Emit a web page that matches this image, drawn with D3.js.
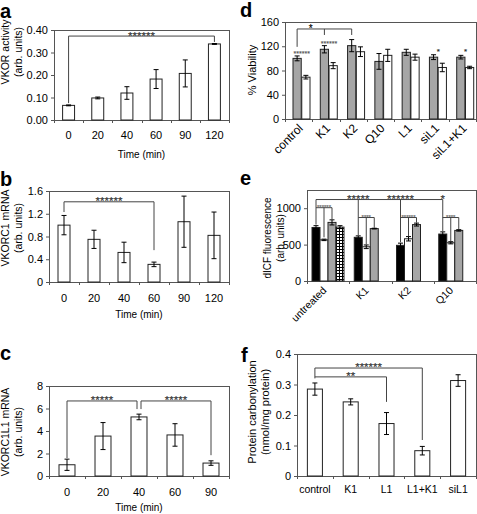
<!DOCTYPE html>
<html><head><meta charset="utf-8">
<script src="https://cdn.jsdelivr.net/npm/d3@7"></script>
<style>body{margin:0;background:#fff} svg{display:block}</style>
</head><body>
<script>
// ---------------- data ----------------
// panel a
const aTimes = ["0","20","40","60","90","120"];
const aValues = [0.065, 0.098, 0.120, 0.182, 0.207, 0.338];
const aErrors = [0.002, 0.004, 0.028, 0.042, 0.060, 0.002];
const aTicks = [0, 0.1, 0.2, 0.3, 0.4];
const aSig = [{from:"0", to:"120", level:0.373, end1:0.075, end2:0.347, label:"******"}];
// panel b
const bTimes = ["0","20","40","60","90","120"];
const bValues = [1.00, 0.75, 0.52, 0.31, 1.06, 0.82];
const bErrors = [0.17, 0.16, 0.18, 0.04, 0.45, 0.41];
const bTicks = [0, 0.4, 0.8, 1.2, 1.6];
const bSig = [{from:"0", to:"60", level:1.41, end1:1.23, end2:0.56, label:"******"}];
// panel c
const cTimes = ["0","20","40","60","90"];
const cValues = [1.0, 3.55, 5.25, 3.65, 1.15];
const cErrors = [0.5, 1.2, 0.25, 1.0, 0.2];
const cTicks = [0, 2, 4, 6, 8];
const cSig = [
  {from:"0", to:"40", level:6.67, end1:1.6, end2:5.95, label:"*****"},
  {from:"40", to:"90", level:6.67, end1:5.95, end2:1.85, label:"*****"}
];
// panel d
const dGroups = ["control","K1","K2","Q10","L1","siL1","siL1+K1"];
const dGray = [100, 115, 121, 95, 110, 102, 102];
const dGrayErr = [4, 6, 10, 13, 5, 4, 3];
const dWhite = [69, 88, 111, 105, 102, 85, 85];
const dWhiteErr = [3, 5, 8, 10, 5, 7, 2];
const dTicks = [0, 40, 80, 120, 160];
const dPairStars = [
  {group:"control", level:107, label:"******"},
  {group:"K1", level:124, label:"******"},
  {group:"siL1", level:112, label:"*"},
  {group:"siL1+K1", level:112, label:"*"}
];
const dSig = {from:"control", mid:"K1", to:"K2", level:148.5, end1:119, endMid:138.6, end2:138.6, label:"*"};
// panel e
const eGroups = ["untreated","K1","K2","Q10"];
const eSeries = ["black","white","gray","hatched"];
const eBlack = [735, 600, 490, 645];
const eBlackErr = [25, 20, 30, 30];
const eWhite = [565, 470, 580, 525];
const eWhiteErr = [10, 25, 30, 15];
const eGray = [805, 720, 775, 695];
const eGrayErr = [35, 5, 20, 10];
const eHatched = [740, null, null, null];
const eHatchedErr = [20, null, null, null];
const eTicks = [0, 500, 1000];
const eTopSig = {level:1119, drops:[
  {group:"untreated", end:775, label:""},
  {group:"K1", end:632, label:"*****"},
  {group:"K2", end:532, label:"******"},
  {group:"Q10", end:687, label:"*"}
]};
const eSubSig = [
  {group:"untreated", level:1007, whiteEnd:600, grayEnd:845, label:"******"},
  {group:"K1", level:872, whiteEnd:500, grayEnd:730, label:"****"},
  {group:"K2", level:872, whiteEnd:615, grayEnd:800, label:"******"},
  {group:"Q10", level:872, whiteEnd:545, grayEnd:710, label:"****"}
];
// panel f
const fGroups = ["control","K1","L1","L1+K1","siL1"];
const fValues = [0.285, 0.243, 0.172, 0.083, 0.313];
const fErrors = [0.020, 0.010, 0.036, 0.014, 0.019];
const fTicks = [0, 0.1, 0.2, 0.3, 0.4];
const fSig = [
  {from:"control", to:"L1+K1", level:0.354, end1:0.32, end2:0.118, label:"******"},
  {from:"control", to:"L1", level:0.325, end1:0.325, end2:0.243, label:"**"}
];

// ---------------- drawing ----------------
const FONT = "'Liberation Sans', Arial, Helvetica, sans-serif";
const FRAME = "#555";
const GRAY = "#a6a6a6";
const svg = d3.select("body").append("svg").attr("width", 477).attr("height", 514)
  .style("font-family", FONT);

const defs = svg.append("defs");
const pat = defs.append("pattern").attr("id","grid").attr("width",3).attr("height",3)
  .attr("patternUnits","userSpaceOnUse");
pat.append("rect").attr("width",3).attr("height",3).attr("fill","#000");
pat.append("rect").attr("x",1).attr("y",1).attr("width",2).attr("height",2).attr("fill","#fff");

const fmt1 = d => d === 0 ? "0" : d3.format(".1f")(d);

function letter(t, x, y) {
  svg.append("text").attr("x", x).attr("y", y).attr("font-size", 20).attr("font-weight", "bold")
    .attr("font-family", FONT).text(t);
}
function frame(g, L, R, T, B) {
  g.append("rect").attr("x", L + 0.5).attr("y", T + 0.5).attr("width", R - L).attr("height", B - T)
    .attr("fill", "none").attr("stroke", FRAME);
}
function yAxis(g, y, L, ticks, fmt) {
  const ax = d3.axisLeft(y).tickValues(ticks).tickSize(3).tickSizeOuter(0).tickPadding(3).tickFormat(fmt);
  const a = g.append("g").attr("transform", `translate(${L},0)`).call(ax);
  a.select(".domain").attr("stroke", FRAME);
  a.selectAll(".tick line").attr("stroke", FRAME);
  a.selectAll("text").attr("font-size", 11).attr("font-family", FONT).attr("fill", "#000");
}
function xTicks(g, x, B, n) {
  const L = x.range()[0], step = x.step();
  g.append("g").selectAll("line").data(d3.range(n + 1)).join("line")
    .attr("x1", i => Math.round(L + i * step) + 0.5).attr("x2", i => Math.round(L + i * step) + 0.5)
    .attr("y1", B).attr("y2", B + 3).attr("stroke", FRAME);
}
function yLabel(lines, xs, yc, fs) {
  lines.forEach((t, i) => {
    svg.append("text").attr("transform", `translate(${xs[i]},${yc}) rotate(-90)`)
      .attr("text-anchor", "middle").attr("font-size", fs).attr("font-family", FONT).text(t);
  });
}
function errBars(g, data, cap) {
  const eg = g.append("g").attr("stroke", "#000").attr("stroke-width", 1);
  data.forEach(d => {
    eg.append("line").attr("x1", d.cx).attr("x2", d.cx).attr("y1", d.top).attr("y2", d.bot);
    eg.append("line").attr("x1", d.cx - cap).attr("x2", d.cx + cap).attr("y1", d.top).attr("y2", d.top);
    eg.append("line").attr("x1", d.cx - cap).attr("x2", d.cx + cap).attr("y1", d.bot).attr("y2", d.bot);
  });
}
function stars(g, x, lineY, label, fs, color) {
  const c = color || "#333";
  g.append("text").attr("x", x).attr("y", lineY + 0.3 * fs).attr("text-anchor", "middle")
    .attr("font-size", fs).attr("font-family", FONT).attr("fill", c)
    .attr("stroke", c).attr("stroke-width", 0.15).text(label);
}
function bracketPath(g, x1, x2, yl, y1, y2, color) {
  g.append("path").attr("d", `M${x1},${y1}V${yl}H${x2}V${y2}`).attr("fill", "none")
    .attr("stroke", color || "#444").attr("stroke-width", 1);
}

function simplePanel(o) {
  const g = svg.append("g");
  const x = d3.scaleBand().domain(o.cats).range([o.L, o.R]).paddingInner(o.pad).paddingOuter(o.pad / 2);
  const y = d3.scaleLinear().domain([0, o.ticks[o.ticks.length - 1]]).range([o.B, o.T]);
  frame(g, o.L, o.R, o.T, o.B);
  g.append("g").selectAll("rect").data(o.cats).join("rect")
    .attr("x", d => x(d)).attr("width", x.bandwidth())
    .attr("y", (d, i) => y(o.values[i])).attr("height", (d, i) => o.B - y(o.values[i]))
    .attr("fill", "#fff").attr("stroke", "#222");
  errBars(g, o.cats.map((c, i) => ({cx: x(c) + x.bandwidth() / 2,
    top: y(o.values[i] + o.errors[i]), bot: y(o.values[i] - o.errors[i])})), 2.5);
  yAxis(g, y, o.L, o.ticks, o.fmt);
  xTicks(g, x, o.B, o.cats.length);
  g.append("g").selectAll("text").data(o.cats).join("text")
    .attr("x", d => x(d) + x.bandwidth() / 2).attr("y", o.labelY).attr("text-anchor", "middle")
    .attr("font-size", o.labelFs).attr("font-family", FONT).text(d => d);
  if (o.title) g.append("text").attr("x", (o.L + o.R) / 2).attr("y", o.titleY).attr("text-anchor", "middle")
    .attr("font-size", 10).attr("font-family", FONT).text(o.title);
  const cx = c => x(c) + x.bandwidth() / 2;
  o.sig.forEach((s, k) => {
    let x1 = cx(s.from), x2 = cx(s.to);
    if (o.shareShift) { if (k === 0) x2 -= 2; else x1 += 2; }
    bracketPath(g, x1, x2, y(s.level), y(s.end1), y(s.end2));
    stars(g, (x1 + x2) / 2, y(s.level), s.label, 11.5);
  });
  return {x, y, g};
}

// ---- panel a
letter("a", 0, 18);
simplePanel({cats: aTimes, values: aValues, errors: aErrors, ticks: aTicks, fmt: d3.format(".2f"),
  L: 54, R: 229, T: 30, B: 120, pad: 0.59, labelY: 139, labelFs: 11, title: "Time (min)", titleY: 158, sig: aSig});
yLabel(["VKOR activity", "(arb. units)"], [9, 22], 52, 10.5);

// ---- panel b
letter("b", 0, 186);
simplePanel({cats: bTimes, values: bValues, errors: bErrors, ticks: bTicks, fmt: fmt1,
  L: 49, R: 229, T: 191, B: 282, pad: 0.6, labelY: 302, labelFs: 11, title: "Time (min)", titleY: 318, sig: bSig});
yLabel(["VKORC1 mRNA", "(arb. units)"], [9, 22], 228, 10.5);

// ---- panel c
letter("c", 0, 360);
simplePanel({cats: cTimes, values: cValues, errors: cErrors, ticks: cTicks, fmt: d => d,
  L: 49, R: 229, T: 386, B: 476, pad: 0.556, labelY: 496, labelFs: 11, title: "Time (min)", titleY: 511,
  sig: cSig, shareShift: true});
yLabel(["VKORC1L1 mRNA", "(arb. units)"], [9, 22], 432, 10.5);

// ---- panel f
letter("f", 241, 362);
simplePanel({cats: fGroups, values: fValues, errors: fErrors, ticks: fTicks, fmt: fmt1,
  L: 297, R: 476, T: 354, B: 476, pad: 0.58, labelY: 493, labelFs: 10.5, sig: fSig});
yLabel(["Protein carbonylation", "(nmol/mg protein)"], [256, 269], 412, 11);

// ---- panel d
(function() {
  letter("d", 240, 17);
  const L = 285, R = 476, T = 22, B = 119;
  const g = svg.append("g");
  const x = d3.scaleBand().domain(dGroups).range([L, R]);
  const xs = d3.scaleBand().domain(["gray", "white"]).range([8, 25]).paddingInner(0.06);
  const y = d3.scaleLinear().domain([0, 160]).range([B, T]);
  frame(g, L, R, T, B);
  const series = [
    {key: "gray", vals: dGray, errs: dGrayErr, fill: GRAY},
    {key: "white", vals: dWhite, errs: dWhiteErr, fill: "#fff"}
  ];
  const eb = [];
  series.forEach(s => {
    g.append("g").selectAll("rect").data(dGroups).join("rect")
      .attr("x", d => x(d) + xs(s.key)).attr("width", xs.bandwidth())
      .attr("y", (d, i) => y(s.vals[i])).attr("height", (d, i) => B - y(s.vals[i]))
      .attr("fill", s.fill).attr("stroke", "#222");
    dGroups.forEach((d, i) => eb.push({cx: x(d) + xs(s.key) + xs.bandwidth() / 2,
      top: y(s.vals[i] + s.errs[i]), bot: y(s.vals[i] - s.errs[i])}));
  });
  errBars(g, eb, 2.5);
  yAxis(g, y, L, dTicks, d => d);
  xTicks(g, x, B, dGroups.length);
  g.append("g").selectAll("text").data(dGroups).join("text")
    .attr("transform", d => `translate(${x(d) + x.bandwidth() / 2 + 5},${B + 10}) rotate(-45)`)
    .attr("text-anchor", "end").attr("font-size", 12).attr("font-family", FONT).text(d => d);
  const cg = d => x(d) + xs("gray") + xs.bandwidth() / 2;
  const pairMid = d => x(d) + xs("white");
  dPairStars.forEach(s => {
    const fs = s.label.length > 1 ? 7 : 8;
    stars(g, pairMid(s.group), y(s.level), s.label, fs, s.label.length > 1 ? "#555" : "#222");
  });
  const x1 = cg(dSig.from), x2 = cg(dSig.to), xm = cg(dSig.mid);
  bracketPath(g, x1, x2, y(dSig.level), y(dSig.end1), y(dSig.end2));
  g.append("line").attr("x1", xm).attr("x2", xm).attr("y1", y(dSig.level)).attr("y2", y(dSig.endMid)).attr("stroke", "#444");
  stars(g, (x1 + xm) / 2, y(dSig.level), dSig.label, 10, "#000");
  yLabel(["% Viability"], [256], 70, 11);
})();

// ---- panel e
(function() {
  letter("e", 240, 185);
  const L = 307, R = 476, T = 190, B = 281;
  const g = svg.append("g");
  const x = d3.scaleBand().domain(eGroups).range([L, R]);
  const xs = d3.scaleBand().domain(eSeries).range([5, 37]);
  const y = d3.scaleLinear().domain([0, 1250]).range([B, T]);
  frame(g, L, R, T, B);
  const series = [
    {key: "black", vals: eBlack, errs: eBlackErr, fill: "#000"},
    {key: "white", vals: eWhite, errs: eWhiteErr, fill: "#fff"},
    {key: "gray", vals: eGray, errs: eGrayErr, fill: GRAY},
    {key: "hatched", vals: eHatched, errs: eHatchedErr, fill: "url(#grid)"}
  ];
  const eb = [];
  series.forEach(s => {
    const idx = eGroups.map((d, i) => i).filter(i => s.vals[i] != null);
    g.append("g").selectAll("rect").data(idx).join("rect")
      .attr("x", i => x(eGroups[i]) + xs(s.key)).attr("width", xs.bandwidth())
      .attr("y", i => y(s.vals[i])).attr("height", i => B - y(s.vals[i]))
      .attr("fill", s.fill).attr("stroke", "#222");
    idx.forEach(i => eb.push({cx: x(eGroups[i]) + xs(s.key) + xs.bandwidth() / 2,
      top: y(s.vals[i] + s.errs[i]), bot: y(s.vals[i] - s.errs[i])}));
  });
  errBars(g, eb, 2.5);
  yAxis(g, y, L, eTicks, d => d);
  xTicks(g, x, B, eGroups.length);
  g.append("g").selectAll("text").data(eGroups).join("text")
    .attr("transform", d => `translate(${x(d) + x.bandwidth() / 2 - 1},${B + 10}) rotate(-45)`)
    .attr("text-anchor", "end").attr("font-size", 10.5).attr("font-family", FONT).text(d => d);
  const cx = (grp, key) => x(grp) + xs(key) + xs.bandwidth() / 2;
  const drops = eTopSig.drops;
  const yl = y(eTopSig.level);
  const xFirst = cx(drops[0].group, "black"), xLast = cx(drops[drops.length - 1].group, "black");
  g.append("line").attr("x1", xFirst).attr("x2", xLast).attr("y1", yl).attr("y2", yl).attr("stroke", "#444");
  drops.forEach(d => {
    const xx = cx(d.group, "black");
    g.append("line").attr("x1", xx).attr("x2", xx).attr("y1", yl).attr("y2", y(d.end)).attr("stroke", "#444");
    if (d.label) stars(g, xx, yl, d.label, 11.5, "#333");
  });
  eSubSig.forEach(s => {
    const xb = cx(s.group, "black"), xw = cx(s.group, "white"), xg = cx(s.group, "gray");
    const ys = y(s.level);
    bracketPath(g, xb, xg, ys, ys, y(s.grayEnd));
    g.append("line").attr("x1", xw).attr("x2", xw).attr("y1", ys).attr("y2", y(s.whiteEnd)).attr("stroke", "#444");
    stars(g, (xb + xg) / 2, ys, s.label, 6, "#666");
  });
  yLabel(["dICF fluorescence", "(arb. units)"], [271, 284], 238, 10);
})();
</script>
</body></html>
